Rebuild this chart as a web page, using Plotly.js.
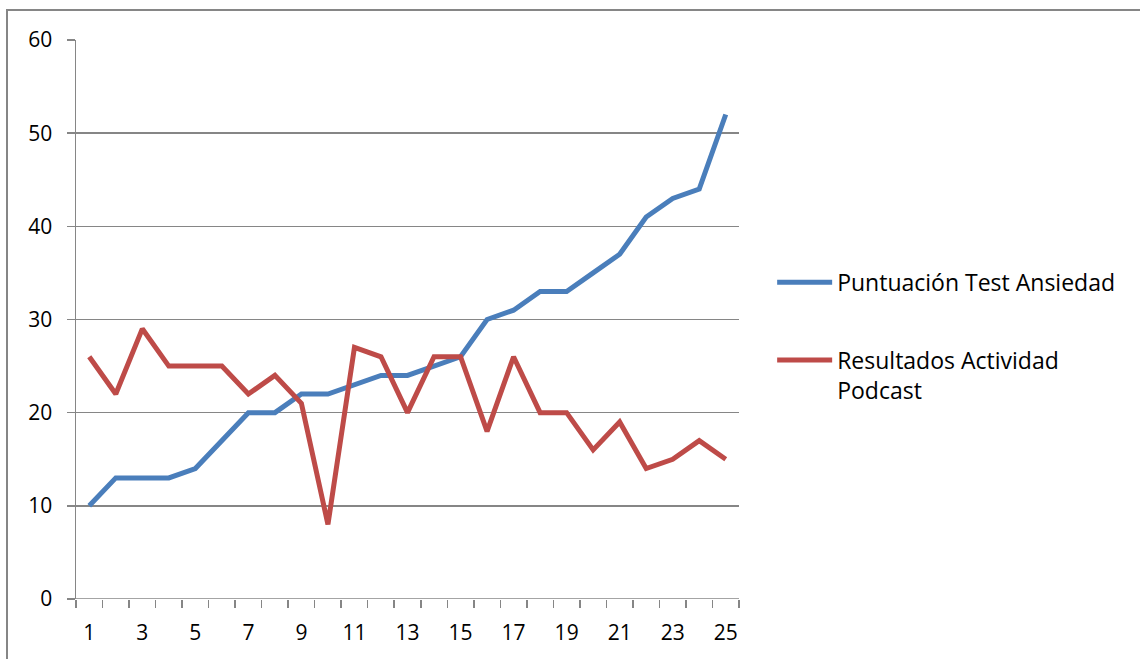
<!DOCTYPE html>
<html>
<head>
<meta charset="utf-8">
<script src="https://cdn.plot.ly/plotly-3.0.1.min.js"></script>
<style>
html,body{margin:0;padding:0;background:#fff;}
#frame{position:absolute;left:6px;top:9px;width:1200px;height:700px;border-top:2px solid #868686;border-left:2px solid #868686;pointer-events:none;}
#chart{position:absolute;left:0;top:0;width:1140px;height:659px;}
</style>
</head>
<body>
<div id="chart"></div>
<div id="frame"></div>
<script>
const categories = [1,2,3,4,5,6,7,8,9,10,11,12,13,14,15,16,17,18,19,20,21,22,23,24,25];
const ansiedad = [10,13,13,13,14,17,20,20,22,22,23,24,24,25,26,30,31,33,33,35,37,41,43,44,52];
const podcast = [26,22,29,25,25,25,22,24,21,8,27,26,20,26,26,18,26,20,20,16,19,14,15,17,15];
const xTickLabels = [1,3,5,7,9,11,13,15,17,19,21,23,25];
const yTicks = [0,10,20,30,40,50,60];

const font = {family: '"Open Sans", Lato, sans-serif', size: 21, color: '#000'};
const legendFont = {family: '"Open Sans", Lato, sans-serif', size: 23, color: '#000'};

const traces = [
  {x: categories, y: ansiedad, type: 'scatter', mode: 'lines', name: 'Puntuación Test Ansiedad',
   line: {color: '#4a7ebb', width: 5}, legendgroup: 'a'},
  {x: categories, y: podcast, type: 'scatter', mode: 'lines', name: 'Resultados Actividad<br>Podcast',
   line: {color: '#be4b48', width: 5}, legendgroup: 'b'}
];

const layout = {
  width: 1140, height: 659,
  margin: {l: 76, r: 401, t: 40, b: 60},
  paper_bgcolor: '#fff', plot_bgcolor: '#fff',
  font: font,
  showlegend: true,
  legend: {x: 1.05, y: 0.47, xanchor: 'left', yanchor: 'middle', font: legendFont,
           traceorder: 'grouped', tracegroupgap: 45, valign: 'top', itemwidth: 55},
  xaxis: {range: [0.5, 25.5], tickvals: xTickLabels, ticktext: xTickLabels.map(String),
          ticks: '', showgrid: false, zeroline: false, showline: false,
          tickfont: font, ticklabelstandoff: 19,
          minor: {tick0: 0.5, dtick: 1, ticks: 'outside', ticklen: 8, tickwidth: 1.5, tickcolor: '#868686', showgrid: false}},
  yaxis: {range: [0, 60], tickvals: yTicks, ticks: 'outside', ticklen: 8, tickwidth: 1.5, tickcolor: '#868686',
          showgrid: true, gridcolor: '#868686', gridwidth: 1.5, zeroline: false,
          showline: true, linecolor: '#868686', linewidth: 1.5, tickfont: font, ticklabelstandoff: 10},
  shapes: [
    {type: 'line', xref: 'paper', yref: 'y', x0: 0, x1: 1, y0: 0, y1: 0, line: {color: '#868686', width: 1.5}}
  ]
};

Plotly.newPlot('chart', traces, layout, {displayModeBar: false, staticPlot: true});
</script>
</body>
</html>
